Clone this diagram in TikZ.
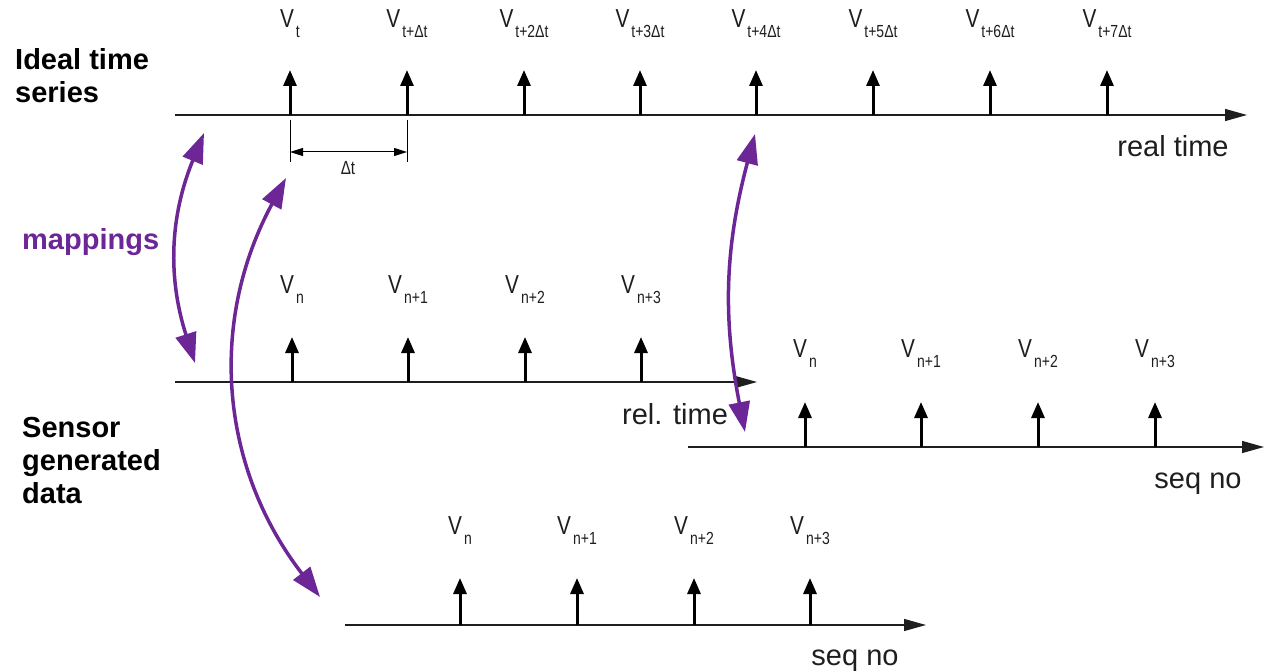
\documentclass[tikz,border=0pt]{standalone}
\usepackage{fontspec}
\setmainfont{Liberation Sans}
\newfontfamily\thinfont[FakeStretch=0.8]{Liberation Sans}
\usetikzlibrary{arrows.meta}
\definecolor{purp}{RGB}{108,38,150}
\definecolor{ink}{RGB}{30,30,30}
\newcommand\Vlab[1]{{\thinfont\fontsize{26}{26}\selectfont V}\kern2pt\raisebox{-10pt}{\thinfont\fontsize{17.5}{17.5}\selectfont #1}}
\begin{document}
\begin{tikzpicture}[x=1pt,y=-1pt,
  axis/.style={line width=1.3pt, draw=ink, -{Triangle[length=22pt,width=12pt]}},
  spike/.style={line width=3pt, draw=black, -{Triangle[length=16pt,width=13pt]}},
  mapping/.style={line width=3.5pt, draw=purp, {Triangle[length=30pt,width=21pt]}-{Triangle[length=30pt,width=21pt]}},
  vlab/.style={anchor=base, inner sep=0pt, text=ink},
  axlab/.style={anchor=base, inner sep=0pt, text=ink, font=\fontsize{29}{29}\selectfont},
  title/.style={anchor=base west, inner sep=0pt, text=black, font=\fontsize{29}{29}\selectfont\bfseries},
  dim/.style={line width=1pt, draw=black}
]
\useasboundingbox (0,0) rectangle (1264,671);

% left titles
\node[title] (t1) at (15,70) {Ideal time};
\node[title] (t2) at (15,103) {series};
\node[title, text=purp] (tm) at (22,250) {mappings};
\node[title] (t3) at (22,437) {Sensor};
\node[title] (t4) at (22,470) {generated};
\node[title] (t5) at (22,503) {data};

% row 1: ideal time series
\coordinate (r1s) at (175,115);
\coordinate (r1e) at (1247,115);
\draw[axis] (r1s) -- (r1e);
\foreach \i/\x/\s in {0/290/t, 1/407/t+Δt, 2/524/t+2Δt, 3/640/t+3Δt, 4/756/t+4Δt, 5/873/t+5Δt, 6/990/t+6Δt, 7/1107/t+7Δt}{
  \coordinate (a\i) at (\x,115);
  \coordinate (at\i) at (\x,70);
  \draw[spike] (a\i) -- (at\i);
  \node[vlab] (va\i) at (\x,28) {\Vlab{\s}};
}
\node[axlab] (rt) at (1173,157) {real time};

% delta t dimension
\coordinate (d0a) at (290,120);
\coordinate (d0b) at (290,162);
\coordinate (d1a) at (407,120);
\coordinate (d1b) at (407,162);
\draw[dim] (d0a) -- (d0b);
\draw[dim] (d1a) -- (d1b);
\coordinate (h0) at (290,152);
\coordinate (h1) at (407,152);
\draw[dim, {Triangle[length=13pt,width=8pt]}-{Triangle[length=13pt,width=8pt]}] (h0) -- (h1);
\node[inner sep=0pt, text=ink, font=\thinfont\fontsize{19}{19}\selectfont] (dt) at (348,168) {Δt};

% row 2: relative time
\coordinate (r2s) at (175,382);
\coordinate (r2e) at (757,382);
\draw[axis] (r2s) -- (r2e);
\foreach \i/\x/\s in {0/292/n, 1/408/n+1, 2/525/n+2, 3/641/n+3}{
  \coordinate (b\i) at (\x,382);
  \coordinate (bt\i) at (\x,337);
  \draw[spike] (b\i) -- (bt\i);
  \node[vlab] (vb\i) at (\x,293) {\Vlab{\s}};
}
\node[axlab] (rel) at (675,424) {rel. time};

% row 3: seq no (right)
\coordinate (r3s) at (688,447);
\coordinate (r3e) at (1264,447);
\draw[axis] (r3s) -- (r3e);
\foreach \i/\x/\s in {0/805/n, 1/921/n+1, 2/1038/n+2, 3/1155/n+3}{
  \coordinate (c\i) at (\x,447);
  \coordinate (ct\i) at (\x,402);
  \draw[spike] (c\i) -- (ct\i);
  \node[vlab] (vc\i) at (\x,357) {\Vlab{\s}};
}
\node[axlab] (sq1) at (1198,488) {seq no};

% row 4: seq no (bottom)
\coordinate (r4s) at (345,625);
\coordinate (r4e) at (926,625);
\draw[axis] (r4s) -- (r4e);
\foreach \i/\x/\s in {0/460/n, 1/577/n+1, 2/694/n+2, 3/810/n+3}{
  \coordinate (d\i) at (\x,625);
  \coordinate (dt\i) at (\x,578);
  \draw[spike] (d\i) -- (dt\i);
  \node[vlab] (vd\i) at (\x,534) {\Vlab{\s}};
}
\node[axlab] (sq2) at (855,665) {seq no};

% mappings
\coordinate (m1b) at (195,363);
\coordinate (m1t) at (204,133);
\draw[mapping] (m1b) to[bend left=20] (m1t);
\coordinate (m2b) at (320,597);
\coordinate (m2t) at (286,178);
\draw[mapping] (m2b) to[bend left=33] (m2t);
\coordinate (m3b) at (745,432);
\coordinate (m3t) at (755,134);
\draw[mapping] (m3b) to[bend left=13] (m3t);
\end{tikzpicture}
\end{document}
